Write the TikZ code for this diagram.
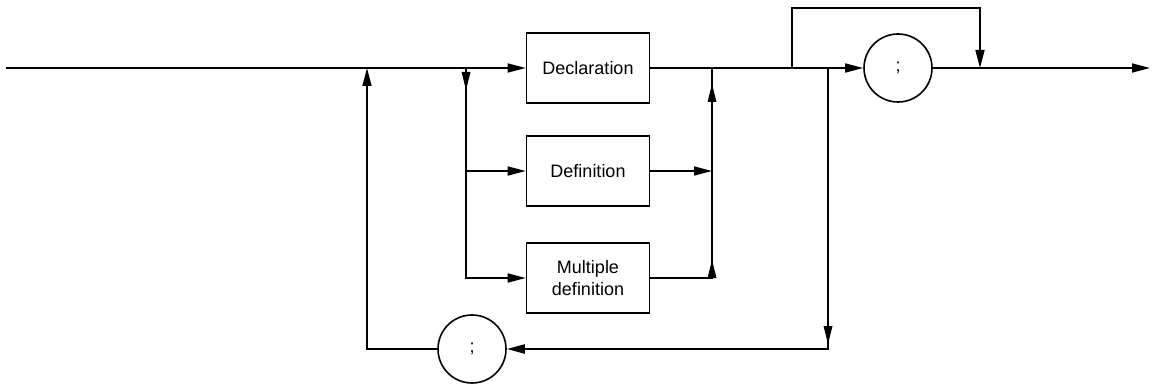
\documentclass[tikz,border=0pt]{standalone}
\usepackage{fontspec}
\setmainfont{Liberation Sans}
\usetikzlibrary{arrows.meta}

\begin{document}
\begin{tikzpicture}
    [x=0.5pt, y=-0.5pt,
    line width=0.8pt,
    >={Triangle[length=9pt,width=4.5pt]},
    pics/arrdn/.style={code={\fill (0,0) -- (-4.5,-18) -- (4.5,-18) -- cycle;}},
    pics/arrup/.style={code={\fill (0,0) -- (-4.5,18) -- (4.5,18) -- cycle;}},
    box/.style={draw, rectangle, minimum width=61.5pt, minimum height=35pt,
        inner sep=0pt, align=center, font=\fontsize{9}{11}\selectfont},
    circ/.style={draw, circle, minimum size=34pt, inner sep=0pt,
        font=\fontsize{9}{11}\selectfont}]
        \useasboundingbox (0,0) rectangle (1155,385);
        %% Boxes and circles
        \node[box] (decl) at (588,68) {Declaration};
        \node[box] (defn) at (588,171) {Definition};
        \node[box] (mdef) at (588,278) {Multiple\\definition};
        \node[circ] (semi) at (898,68) {;};
        \node[circ] (sep) at (472,349) {;};
        %% Junctions
        \coordinate (start) at (6,68);
        \coordinate (end) at (1150,68);
        \coordinate (loopL) at (367,68);
        \coordinate (fork) at (466,68);
        \coordinate (join) at (712,68);
        \coordinate (skipL) at (792,68);
        \coordinate (skiptop) at (886,8);
        \coordinate (skipR) at (980,68);
        \coordinate (back) at (828,68);
        %% Arrow tips along the lines
        \coordinate (forktip) at (466,90);
        \coordinate (jointip) at (712,84);
        \coordinate (lowtip) at (712,260);
        \coordinate (backtip) at (828,344);

        \draw[->] (start) to (decl.west);
        \draw[->] (decl.east) to (semi.west);
        \draw[->] (semi.east) to (end);
        \draw[->] (skipL) |- (skiptop) -| (skipR);
        \draw[->] (fork) |- (mdef.west);
        \draw[->] (fork |- defn.west) to (defn.west);
        \draw[->] (defn.east) to (defn.east -| join);
        \draw (mdef.east) -| (join);
        \draw[->, line width=1.2pt] (back) |- (sep.east);
        \draw[->] (sep.west) -| (loopL);
        \pic at (forktip) {arrdn};
        \pic at (jointip) {arrup};
        \pic at (lowtip) {arrup};
        \pic at (backtip) {arrdn};
    \end{tikzpicture}
\end{document}
